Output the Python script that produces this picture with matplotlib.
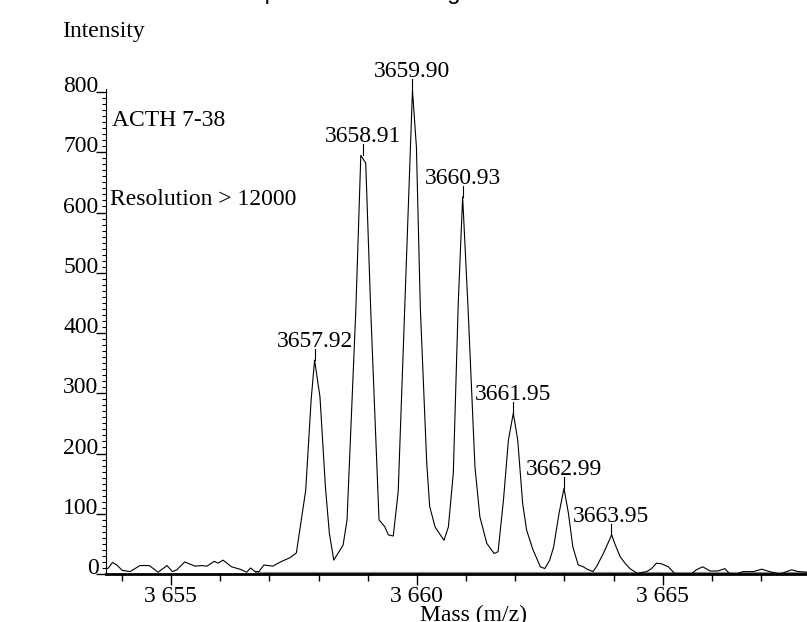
import matplotlib
matplotlib.use("Agg")
import matplotlib.pyplot as plt
from matplotlib.ticker import MultipleLocator, FuncFormatter

W, H = 807, 622

# profile of the isotope cluster
mass = [3653.67, 3653.73, 3653.81, 3653.90, 3654.01, 3654.17, 3654.37, 3654.56, 3654.74, 3654.92,
        3655.03, 3655.12, 3655.28, 3655.49, 3655.62, 3655.73, 3655.88, 3655.96, 3656.06, 3656.23,
        3656.40, 3656.54, 3656.62, 3656.71, 3656.79, 3656.89, 3657.07, 3657.18, 3657.28, 3657.42,
        3657.55, 3657.74, 3657.85, 3657.92, 3658.03, 3658.14, 3658.22, 3658.31, 3658.50, 3658.58,
        3658.76, 3658.86, 3658.96, 3659.06, 3659.23, 3659.35, 3659.42, 3659.52, 3659.62, 3659.91,
        3659.99, 3660.07, 3660.20, 3660.26, 3660.37, 3660.55, 3660.64, 3660.74, 3660.84, 3660.93,
        3661.04, 3661.18, 3661.28, 3661.42, 3661.57, 3661.65, 3661.76, 3661.86, 3661.96, 3662.05,
        3662.15, 3662.23, 3662.36, 3662.51, 3662.60, 3662.70, 3662.78, 3662.89, 3662.99, 3663.08,
        3663.17, 3663.28, 3663.38, 3663.46, 3663.58, 3663.65, 3663.79, 3663.96, 3664.02, 3664.13,
        3664.23, 3664.33, 3664.48, 3664.67, 3664.77, 3664.87, 3664.97, 3665.11, 3665.24, 3665.41,
        3665.58, 3665.68, 3665.81, 3665.96, 3666.12, 3666.26, 3666.36, 3666.50, 3666.63, 3666.84,
        3667.01, 3667.17, 3667.38, 3667.62, 3667.75, 3667.93]
intensity = [8, 10, 19, 15, 6, 4, 14, 14, 3, 14,
             4, 7, 20, 13, 14, 13, 21, 18, 23, 12,
             8, 3, 10, 4, 4, 15, 13, 18, 22, 27,
             35, 139, 289, 355, 294, 145, 68, 23, 48, 90,
             441, 695, 682, 441, 90, 78, 65, 63, 137, 803,
             709, 441, 184, 112, 78, 56, 78, 167, 448, 626,
             441, 178, 95, 51, 34, 37, 123, 222, 267, 222,
             117, 73, 40, 12, 9, 23, 45, 101, 142, 101,
             45, 15, 12, 8, 4, 12, 34, 65, 51, 29,
             18, 9, 1, 4, 9, 18, 17, 12, 1, 0,
             0, 7, 12, 5, 5, 9, 0, 0, 4, 4,
             8, 4, 0, 7, 4, 3]

# labelled peaks
peak_mass = [3657.92, 3658.91, 3659.90, 3660.93, 3661.95, 3662.99, 3663.95]
peak_top = [355, 695, 803, 626, 267, 142, 65]

# faint second trace lying on the baseline
base_mass = [3656.70, 3667.93]
base_level = [1.5, 1.5]

serif = "Liberation Serif"
fs = 17

fig = plt.figure(figsize=(W / 100, H / 100), dpi=100)
ax = fig.add_axes([105.5 / W, 48 / H, (W - 105.5) / W, 485 / H])

ax.plot(base_mass, base_level, color="#8a8a8a", lw=1.6, solid_capstyle="butt")
ax.plot(mass, intensity, color="black", lw=0.8)

ax.set_xlim(3653.67, 3667.93)
ax.set_ylim(0, 805)

# leaders and peak labels
px_per_unit = 485 / 805
for m, top in zip(peak_mass, peak_top):
    ax.plot([m, m], [top, top + 11 / px_per_unit], color="black", lw=0.8, clip_on=False)
    ax.text(m, top + 13 / px_per_unit, "%.2f" % m, ha="center", va="baseline",
            family=serif, fontsize=fs, clip_on=False)

for s in ["top", "right"]:
    ax.spines[s].set_visible(False)
ax.spines["bottom"].set_linewidth(2)
ax.spines["left"].set_linewidth(0.8)

ax.xaxis.set_major_locator(MultipleLocator(5))
ax.xaxis.set_minor_locator(MultipleLocator(1))
ax.xaxis.set_major_formatter(FuncFormatter(lambda v, p: "3 %03d" % (int(round(v)) - 3000)))
ax.yaxis.set_major_locator(MultipleLocator(100))
ax.yaxis.set_minor_locator(MultipleLocator(10))

ax.tick_params(axis="x", which="major", direction="out", length=8, width=1, pad=1)
ax.tick_params(axis="x", which="minor", direction="out", length=5, width=1)
ax.tick_params(axis="y", which="major", direction="out", length=7, width=1, pad=-2)
ax.tick_params(axis="y", which="minor", direction="out", length=3, width=0.8)

for lab in ax.get_xticklabels() + ax.get_yticklabels():
    lab.set_family(serif)
    lab.set_fontsize(fs)
for lab in ax.get_yticklabels():
    lab.set_verticalalignment("baseline")

def px(x, y):
    return x / W, 1 - y / H

fig.text(*px(62, 37), "Intensity", family=serif, fontsize=fs, va="baseline")
fig.text(*px(474, 621.5), "Mass (m/z)", family=serif, fontsize=fs, ha="center", va="baseline")
fig.text(*px(112, 126), "ACTH 7-38", family=serif, fontsize=fs, va="baseline")
fig.text(*px(110, 205), "Resolution > 12000", family=serif, fontsize=fs, va="baseline")
# title sits almost entirely above the top edge, only descenders show
fig.text(*px(237, -1), "Expanded mass range", family="Liberation Sans", fontsize=17, va="baseline")

fig.savefig("out.png", dpi=100)
